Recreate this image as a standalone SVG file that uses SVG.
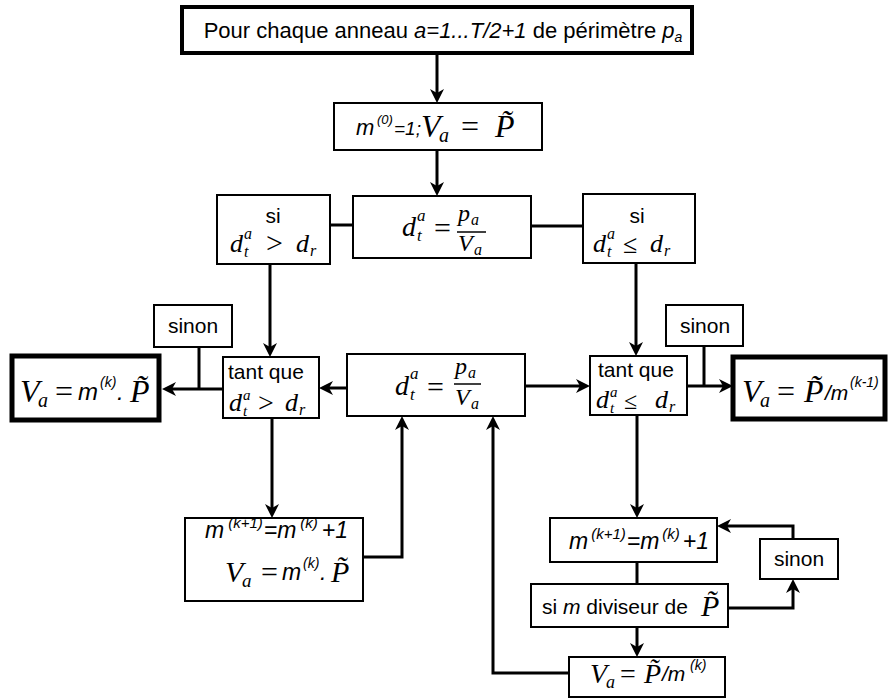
<svg xmlns="http://www.w3.org/2000/svg" width="888" height="699" viewBox="0 0 888 699">
<defs>
<style>
.box{fill:#fff;stroke:#000;stroke-width:2}
.thick{stroke-width:5}
.top{stroke-width:4}
.conn path{fill:none;stroke:#000;stroke-width:3}
.arr{marker-end:url(#ah)}
text{fill:#000}
.s{font-family:"Liberation Sans",Arial,sans-serif;font-size:21px}
.si{font-family:"Liberation Sans",Arial,sans-serif;font-style:italic}
.mi{font-family:"Liberation Serif","Times New Roman",serif;font-style:italic}
.mr{font-family:"Liberation Serif","Times New Roman",serif;font-style:normal}
.bar{stroke:#000;stroke-width:1.5}
</style>
<marker id="ah" viewBox="0 0 14 14" markerWidth="14" markerHeight="14" refX="10" refY="7" orient="auto" markerUnits="userSpaceOnUse">
<path d="M0,0 L14,7 L0,14 L4,7 z" fill="#000"/>
</marker>
</defs>
<rect width="888" height="699" fill="#fff"/>

<g id="connectors" class="conn">
<path class="arr" d="M437,53 L437,99"/>
<path class="arr" d="M437,150 L437,192"/>
<path d="M330,225 L353,225"/>
<path d="M531,226 L583,226"/>
<path class="arr" d="M270,264 L270,353"/>
<path class="arr" d="M636,263 L636,352"/>
<path d="M199,347 L199,389"/>
<path class="arr" d="M223,389 L166,389"/>
<path class="arr" d="M347,388 L323,388"/>
<path class="arr" d="M525,386 L586,386"/>
<path d="M704,346 L704,386"/>
<path class="arr" d="M687,386 L729,386"/>
<path class="arr" d="M272,418 L272,514"/>
<path class="arr" d="M363,557 L402,557 L402,420"/>
<path class="arr" d="M637,415 L637,514"/>
<path d="M637,562 L637,584"/>
<path class="arr" d="M728,608 L793,608 L793,583"/>
<path class="arr" d="M793,539 L793,526 L721,526"/>
<path class="arr" d="M637,627 L637,653"/>
<path class="arr" d="M569,673 L493,673 L493,420"/>
</g>

<g id="start">
<rect class="box top" x="182" y="7" width="510" height="46"/>
<text class="s" x="443" y="38" text-anchor="middle" style="font-size:22px">Pour chaque anneau <tspan font-style="italic">a=1...T/2+1</tspan> de périmètre <tspan font-style="italic">p</tspan><tspan font-style="italic" font-size="14" dy="4">a</tspan></text>
</g>

<g id="init">
<rect class="box" x="334" y="103" width="208" height="47"/>
<text><tspan class="si" font-size="22" x="356" y="135">m</tspan><tspan class="si" font-size="13" x="377" y="124">(0)</tspan><tspan class="si" font-size="19" x="394" y="135">=1;</tspan><tspan class="mi" font-size="32" x="421" y="137">V</tspan><tspan class="mi" font-size="20" x="439" y="142">a</tspan><tspan class="mr" font-size="32" x="461" y="137">=</tspan><tspan class="mi" font-size="32" x="495" y="137">P&#x303;</tspan></text>
</g>

<g id="dt1">
<rect class="box" x="353" y="196" width="178" height="62"/>
<text><tspan class="mi" font-size="28" x="402" y="236">d</tspan><tspan class="mi" font-size="17" x="417" y="221">a</tspan><tspan class="mi" font-size="17" x="417" y="241">t</tspan><tspan class="mr" font-size="30" x="434" y="238">=</tspan><tspan class="mi" font-size="24" x="458" y="221">p</tspan><tspan class="mi" font-size="16" x="471" y="225">a</tspan><tspan class="mi" font-size="24" x="458" y="251">V</tspan><tspan class="mi" font-size="16" x="474" y="255">a</tspan></text>
<line class="bar" x1="457" y1="232" x2="486" y2="232"/>
</g>

<g id="si-left">
<rect class="box" x="217" y="195" width="113" height="69"/>
<text class="s" x="273" y="223" text-anchor="middle">si</text>
<text><tspan class="mi" font-size="26" x="230" y="252">d</tspan><tspan class="mi" font-size="16" x="244" y="239">a</tspan><tspan class="mi" font-size="16" x="244" y="257">t</tspan><tspan class="mr" font-size="30" x="266" y="253">&gt;</tspan><tspan class="mi" font-size="26" x="296" y="252">d</tspan><tspan class="mi" font-size="16" x="310" y="256">r</tspan></text>
</g>

<g id="si-right">
<rect class="box" x="583" y="194" width="112" height="69"/>
<text class="s" x="637" y="223" text-anchor="middle">si</text>
<text><tspan class="mi" font-size="26" x="593" y="252">d</tspan><tspan class="mi" font-size="16" x="607" y="239">a</tspan><tspan class="mi" font-size="16" x="607" y="257">t</tspan><tspan class="mr" font-size="26" x="623" y="253">≤</tspan><tspan class="mi" font-size="26" x="650" y="252">d</tspan><tspan class="mi" font-size="16" x="664" y="256">r</tspan></text>
</g>

<g id="sinon-left">
<rect class="box" x="154" y="305" width="78" height="42"/>
<text class="s" x="193" y="333" text-anchor="middle">sinon</text>
</g>

<g id="sinon-right">
<rect class="box" x="666" y="305" width="77" height="41"/>
<text class="s" x="705" y="333" text-anchor="middle">sinon</text>
</g>

<g id="result-left">
<rect class="box thick" x="12" y="356" width="147" height="64"/>
<text><tspan class="mi" font-size="32" x="20" y="402">V</tspan><tspan class="mi" font-size="20" x="38" y="407">a</tspan><tspan class="mr" font-size="32" x="55" y="402">=</tspan><tspan class="si" font-size="24" x="78" y="400">m</tspan><tspan class="si" font-size="14" x="100" y="387">(k)</tspan><tspan class="si" font-size="24" x="117" y="400">.</tspan><tspan class="mi" font-size="32" x="130" y="402">P&#x303;</tspan></text>
</g>

<g id="tant-left">
<rect class="box" x="223" y="357" width="96" height="61"/>
<text class="s" x="228" y="379">tant que</text>
<text><tspan class="mi" font-size="26" x="229" y="411">d</tspan><tspan class="mi" font-size="15" x="243" y="400">a</tspan><tspan class="mi" font-size="15" x="243" y="416">t</tspan><tspan class="mr" font-size="28" x="258" y="412">&gt;</tspan><tspan class="mi" font-size="26" x="285" y="411">d</tspan><tspan class="mi" font-size="16" x="299" y="415">r</tspan></text>
</g>

<g id="dt2">
<rect class="box" x="347" y="354" width="178" height="62"/>
<text><tspan class="mi" font-size="28" x="395" y="395">d</tspan><tspan class="mi" font-size="17" x="410" y="379">a</tspan><tspan class="mi" font-size="17" x="410" y="400">t</tspan><tspan class="mr" font-size="30" x="427" y="397">=</tspan><tspan class="mi" font-size="24" x="455" y="374">p</tspan><tspan class="mi" font-size="16" x="468" y="378">a</tspan><tspan class="mi" font-size="24" x="455" y="405">V</tspan><tspan class="mi" font-size="16" x="471" y="409">a</tspan></text>
<line class="bar" x1="454" y1="384" x2="481" y2="384"/>
</g>

<g id="tant-right">
<rect class="box" x="590" y="356" width="97" height="59"/>
<text class="s" x="598" y="377">tant que</text>
<text><tspan class="mi" font-size="26" x="596" y="408">d</tspan><tspan class="mi" font-size="15" x="610" y="397">a</tspan><tspan class="mi" font-size="15" x="610" y="413">t</tspan><tspan class="mr" font-size="24" x="624" y="409">≤</tspan><tspan class="mi" font-size="26" x="655" y="408">d</tspan><tspan class="mi" font-size="16" x="669" y="412">r</tspan></text>
</g>

<g id="result-right">
<rect class="box thick" x="733" y="357" width="152" height="62"/>
<text><tspan class="mi" font-size="32" x="742" y="402">V</tspan><tspan class="mi" font-size="20" x="760" y="407">a</tspan><tspan class="mr" font-size="32" x="777" y="402">=</tspan><tspan class="mi" font-size="32" x="804" y="402">P&#x303;</tspan><tspan class="si" font-size="21" x="825" y="400">/m</tspan><tspan class="si" font-size="14" x="850" y="387">(k-1)</tspan></text>
</g>

<g id="incr-left">
<rect class="box" x="185" y="518" width="178" height="83"/>
<text class="si" font-size="23"><tspan x="205" y="538">m</tspan><tspan font-size="15" dx="4" dy="-10">(k+1)</tspan><tspan dx="1" dy="10">=m</tspan><tspan font-size="15" dx="4" dy="-10">(k)</tspan><tspan dx="4" dy="10">+1</tspan></text>
<text><tspan class="mi" font-size="30" x="225" y="582">V</tspan><tspan class="mi" font-size="19" x="242" y="587">a</tspan><tspan class="mr" font-size="30" x="261" y="582">=</tspan><tspan class="si" font-size="23" x="282" y="580">m</tspan><tspan class="si" font-size="14" x="303" y="568">(k)</tspan><tspan class="si" font-size="23" x="320" y="580">.</tspan><tspan class="mi" font-size="30" x="331" y="582">P&#x303;</tspan></text>
</g>

<g id="incr-right">
<rect class="box" x="550" y="518" width="167" height="44"/>
<text class="si" font-size="23"><tspan x="569" y="549">m</tspan><tspan font-size="15" dx="3" dy="-10">(k+1)</tspan><tspan dx="1" dy="10">=m</tspan><tspan font-size="15" dx="3" dy="-10">(k)</tspan><tspan dx="3" dy="10">+1</tspan></text>
</g>

<g id="sinon-bottom">
<rect class="box" x="760" y="539" width="78" height="40"/>
<text class="s" x="799" y="566" text-anchor="middle">sinon</text>
</g>

<g id="diviseur">
<rect class="box" x="531" y="584" width="197" height="43"/>
<text><tspan class="s" x="542" y="614">si <tspan font-style="italic">m</tspan> diviseur de</tspan><tspan class="mi" font-size="30" x="701" y="616">P&#x303;</tspan></text>
</g>

<g id="result-bottom">
<rect class="box" x="569" y="657" width="156" height="40"/>
<text><tspan class="mi" font-size="28" x="590" y="683">V</tspan><tspan class="mi" font-size="18" x="606" y="688">a</tspan><tspan class="mr" font-size="28" x="620" y="683">=</tspan><tspan class="mi" font-size="28" x="644" y="683">P&#x303;</tspan><tspan class="si" font-size="21" x="662" y="681">/m</tspan><tspan class="si" font-size="14" x="690" y="670">(k)</tspan></text>
</g>
</svg>
